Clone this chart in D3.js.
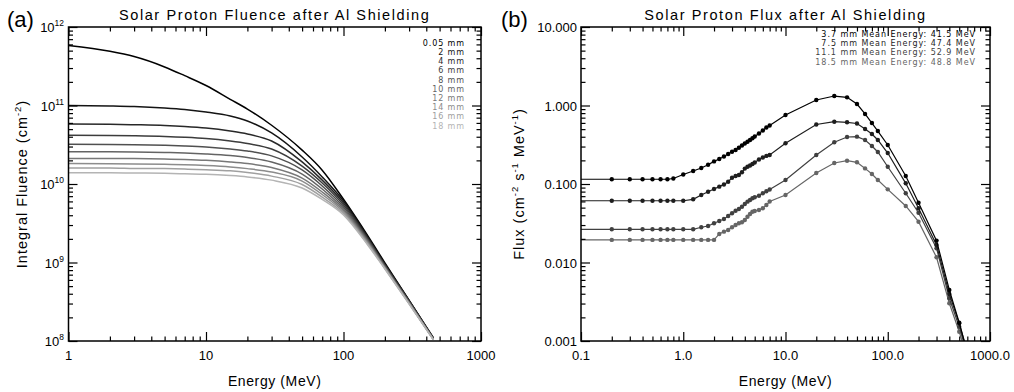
<!DOCTYPE html>
<html>
<head>
<meta charset="utf-8">
<script src="https://cdn.jsdelivr.net/npm/d3@7"></script>
<style>
  body { margin: 0; background: #fff; }
  svg { display: block; }
  text { font-family: "Liberation Sans", Arial, sans-serif; fill: #000; }
  text.legend { font-family: "DejaVu Sans", sans-serif; }
</style>
</head>
<body>
<svg id="chart" width="1014" height="392"></svg>
<script>
// ---- panel (a) data : integral fluence vs energy, one array per Al thickness
var fluenceEnergy = [1, 2, 3, 5, 7, 10, 15, 20, 30, 50, 70, 100, 150, 200, 300, 450];
var shieldLabels = ['0.05 mm', '2 mm', '4 mm', '6 mm', '8 mm', '10 mm', '12 mm', '14 mm', '16 mm', '18 mm'];
var fl005 = [5.8e11, 4.9e11, 4.2e11, 3.1e11, 2.4e11, 1.8e11, 1.2e11, 9.0e10, 5.6e10, 2.7e10, 1.5e10, 6.4e9, 2.2e9, 9.9e8, 3.3e8, 1.1e8];
var fl2   = [1.00e11, 9.86e10, 9.70e10, 9.29e10, 8.89e10, 8.26e10, 7.35e10, 6.35e10, 4.47e10, 2.21e10, 1.23e10, 6.07e9, 2.11e9, 9.57e8, 3.28e8, 1.09e8];
var fl4   = [5.81e10, 5.77e10, 5.69e10, 5.56e10, 5.40e10, 5.16e10, 4.73e10, 4.34e10, 3.53e10, 1.91e10, 1.12e10, 5.73e9, 2.05e9, 9.29e8, 3.24e8, 1.08e8];
var fl6   = [4.17e10, 4.15e10, 4.11e10, 4.03e10, 3.94e10, 3.80e10, 3.53e10, 3.28e10, 2.79e10, 1.69e10, 1.03e10, 5.40e9, 1.99e9, 9.16e8, 3.18e8, 1.07e8];
var fl8   = [3.21e10, 3.18e10, 3.16e10, 3.11e10, 3.05e10, 2.96e10, 2.79e10, 2.63e10, 2.28e10, 1.51e10, 9.44e9, 5.09e9, 1.94e9, 9.02e8, 3.14e8, 1.07e8];
var fl10  = [2.58e10, 2.57e10, 2.56e10, 2.52e10, 2.48e10, 2.41e10, 2.30e10, 2.18e10, 1.91e10, 1.34e10, 8.63e9, 4.81e9, 1.88e9, 8.77e8, 3.09e8, 1.06e8];
var fl12  = [2.12e10, 2.12e10, 2.11e10, 2.08e10, 2.05e10, 2.00e10, 1.91e10, 1.82e10, 1.62e10, 1.19e10, 7.91e9, 4.59e9, 1.82e9, 8.63e8, 3.05e8, 1.05e8];
var fl14  = [1.82e10, 1.81e10, 1.80e10, 1.78e10, 1.76e10, 1.72e10, 1.65e10, 1.57e10, 1.42e10, 1.09e10, 7.35e9, 4.40e9, 1.77e9, 8.51e8, 3.02e8, 1.05e8];
var fl16  = [1.60e10, 1.60e10, 1.58e10, 1.57e10, 1.55e10, 1.52e10, 1.47e10, 1.40e10, 1.26e10, 9.86e9, 6.82e9, 4.21e9, 1.72e9, 8.39e8, 2.99e8, 1.04e8];
var fl18  = [1.39e10, 1.39e10, 1.38e10, 1.37e10, 1.35e10, 1.33e10, 1.28e10, 1.23e10, 1.12e10, 8.89e9, 6.35e9, 4.03e9, 1.67e9, 8.26e8, 2.96e8, 1.04e8];
var fluenceSeries = [fl005, fl2, fl4, fl6, fl8, fl10, fl12, fl14, fl16, fl18];
var fluenceXTicks = [1, 10, 100, 1000];
var fluenceYTicks = [1e8, 1e9, 1e10, 1e11, 1e12];

// ---- panel (b) data : differential flux vs energy
var fluxEnergy = [0.1, 0.2, 0.3, 0.4, 0.5, 0.6, 0.7, 0.8, 1.0, 1.25, 1.5, 1.75, 2.0, 2.25, 2.5, 2.75, 3.0, 3.25, 3.5, 3.75,
                  4.0, 4.25, 4.5, 4.75, 5.0, 5.5, 6.0, 6.5, 7.0, 10, 20, 30, 40, 50, 60, 70, 80, 100, 150, 200, 300, 400, 500, 600];
var flux37 = [0.115, 0.115, 0.115, 0.115, 0.115, 0.115, 0.115, 0.1175, 0.132, 0.1465, 0.160, 0.176, 0.194, 0.208, 0.224, 0.241, 0.258, 0.271, 0.290, 0.309,
              0.328, 0.346, 0.364, 0.382, 0.403, 0.440, 0.481, 0.525, 0.556, 0.757, 1.175, 1.32, 1.27, 1.045, 0.780, 0.598, 0.473, 0.314, 0.1265, 0.0578, 0.0190, 0.00447, 0.00171, 0.00072];
var flux75 = [0.0612, 0.0612, 0.0612, 0.0612, 0.0612, 0.0612, 0.0612, 0.0612, 0.0612, 0.0638, 0.0724, 0.0798, 0.0863, 0.0925, 0.0986, 0.107, 0.120, 0.1265, 0.130, 0.141,
              0.157, 0.166, 0.172, 0.180, 0.188, 0.205, 0.218, 0.228, 0.234, 0.330, 0.573, 0.622, 0.611, 0.590, 0.502, 0.434, 0.364, 0.248, 0.102, 0.0490, 0.0167, 0.00397, 0.00168, 0.00072];
var flux111 = [0.0265, 0.0265, 0.0265, 0.0265, 0.0265, 0.0265, 0.0265, 0.0265, 0.0265, 0.0265, 0.0281, 0.0292, 0.0316, 0.0338, 0.0358, 0.0391, 0.0424, 0.0457, 0.0481, 0.0514,
               0.0556, 0.0596, 0.0625, 0.0658, 0.0678, 0.0710, 0.0762, 0.0807, 0.0851, 0.1125, 0.234, 0.340, 0.397, 0.401, 0.364, 0.305, 0.256, 0.166, 0.0762, 0.0431, 0.0152, 0.00350, 0.00152, 0.00066];
var flux185 = [0.0194, 0.0194, 0.0194, 0.0194, 0.0194, 0.0194, 0.0194, 0.0194, 0.0194, 0.0194, 0.0194, 0.0194, 0.0194, 0.0231, 0.0247, 0.0259, 0.0281, 0.0301, 0.0316, 0.0325,
               0.0348, 0.0383, 0.0415, 0.0444, 0.0453, 0.0467, 0.0490, 0.0540, 0.0598, 0.0724, 0.138, 0.185, 0.198, 0.189, 0.158, 0.134, 0.1125, 0.0855, 0.0525, 0.0331, 0.01164, 0.00302, 0.00131, 0.00061];
var fluxSeries = [flux37, flux75, flux111, flux185];
var fluxLegend = ['3.7 mm Mean Energy: 41.5 MeV', '7.5 mm Mean Energy: 47.4 MeV', '11.1 mm Mean Energy: 52.9 MeV', '18.5 mm Mean Energy: 48.8 MeV'];
var fluxColors = ['#000000', '#1e1e1e', '#404040', '#666666'];
var fluxXTicks = [0.1, 1, 10, 100, 1000];
var fluxXLabels = ['0.1', '1.0', '10.0', '100.0', '1000.0'];
var fluxYTicks = [0.001, 0.01, 0.1, 1, 10];
var fluxYLabels = ['0.001', '0.010', '0.100', '1.000', '10.000'];

var svg = d3.select('#chart');
var MAJOR = 9, MINOR = 4.5;

// help function : IDL style box with inward ticks on all four sides
function drawBox(x, y, xMajor, yMajor){
    var xr = x.range(), yr = y.range();
    var xMinor = x.ticks().filter(function(t){ return xMajor.indexOf(t) < 0; });
    var yMinor = y.ticks().filter(function(t){ return yMajor.indexOf(t) < 0; });
    var axes = [
        [d3.axisBottom, x, xMinor, xMajor, 'translate(0,' + yr[0] + ')'],
        [d3.axisTop, x, xMinor, xMajor, 'translate(0,' + yr[1] + ')'],
        [d3.axisLeft, y, yMinor, yMajor, 'translate(' + xr[0] + ',0)'],
        [d3.axisRight, y, yMinor, yMajor, 'translate(' + xr[1] + ',0)']
    ];
    axes.forEach(function(a){
        [[a[2], MINOR], [a[3], MAJOR]].forEach(function(set){
            var g = svg.append('g').attr('transform', a[4])
                .call(a[0](a[1]).tickValues(set[0]).tickSize(-set[1]).tickFormat(''));
            g.select('.domain').remove();
            g.selectAll('line').attr('stroke', '#000').attr('stroke-width', 1.2);
        });
    });
    svg.append('rect')
        .attr('x', xr[0]).attr('y', yr[1])
        .attr('width', xr[1] - xr[0]).attr('height', yr[0] - yr[1])
        .attr('fill', 'none').attr('stroke', '#000').attr('stroke-width', 1.5);
}

function addSupText(sel, parts){
    // parts: [text, sup?]
    parts.forEach(function(p, i){
        var t = sel.append('tspan').text(p[0]);
        if(p[1]){
            t.attr('dy', -6).attr('font-size', '0.65em');
        } else if(i > 0 && parts[i - 1][1]){
            t.attr('dy', 6);
        }
    });
}

// ================= panel (a)
var xA = d3.scaleLog().domain([1, 1000]).range([68.5, 481]);
var yA = d3.scaleLog().domain([1e8, 1e12]).range([341, 27]);
var greys = d3.interpolateRgb('#000000', '#b4b4b4');

var lineA = d3.line()
    .x(function(d){ return xA(d[0]); })
    .y(function(d){ return yA(d[1]); })
    .curve(d3.curveMonotoneX);

fluenceSeries.forEach(function(vals, i){
    var pts = fluenceEnergy.map(function(e, k){ return [e, vals[k]]; });
    svg.append('path').datum(pts)
        .attr('d', lineA)
        .attr('fill', 'none')
        .attr('stroke', greys(i / 9))
        .attr('stroke-width', 1.5);
});

drawBox(xA, yA, fluenceXTicks, fluenceYTicks);

fluenceXTicks.forEach(function(t){
    svg.append('text').attr('x', xA(t)).attr('y', 360)
        .attr('text-anchor', 'middle').attr('font-size', 13).text(t);
});
fluenceYTicks.forEach(function(t){
    var txt = svg.append('text').attr('x', 64).attr('y', yA(t) + 5)
        .attr('text-anchor', 'end').attr('font-size', 13);
    addSupText(txt, [['10', false], [String(Math.round(Math.log10(t))), true]]);
});

shieldLabels.forEach(function(lbl, i){
    svg.append('text').attr('class', 'legend')
        .attr('x', 465).attr('y', 45.8 + i * 9.2)
        .attr('text-anchor', 'end').attr('font-size', 8)
        .attr('letter-spacing', 0.9)
        .style('fill', greys(i / 9))
        .text(lbl);
});

svg.append('text').attr('x', 274.7).attr('y', 20).attr('text-anchor', 'middle')
    .attr('font-size', 14.5).attr('letter-spacing', 1.6)
    .text('Solar Proton Fluence after Al Shielding');
svg.append('text').attr('x', 274.7).attr('y', 386).attr('text-anchor', 'middle')
    .attr('font-size', 14).attr('letter-spacing', 0.6)
    .text('Energy (MeV)');
var ytA = svg.append('text').attr('transform', 'translate(27,184) rotate(-90)')
    .attr('text-anchor', 'middle').attr('font-size', 14.5).attr('letter-spacing', 1);
addSupText(ytA, [['Integral Fluence (cm', false], ['-2', true], [')', false]]);
svg.append('text').attr('x', 7).attr('y', 27).attr('font-size', 22).text('(a)');

// ================= panel (b)
var xB = d3.scaleLog().domain([0.1, 1000]).range([581, 990]);
var yB = d3.scaleLog().domain([0.001, 10]).range([341, 27]);

svg.append('clipPath').attr('id', 'clipB').append('rect')
    .attr('x', 581).attr('y', 27).attr('width', 409).attr('height', 314);

var lineB = d3.line()
    .x(function(d){ return xB(d[0]); })
    .y(function(d){ return yB(d[1]); });

var gB = svg.append('g').attr('clip-path', 'url(#clipB)');
fluxSeries.slice().reverse().forEach(function(vals, ri){
    var i = fluxSeries.length - 1 - ri;
    var pts = fluxEnergy.map(function(e, k){ return [e, vals[k]]; });
    gB.append('path').datum(pts)
        .attr('d', lineB)
        .attr('fill', 'none')
        .attr('stroke', fluxColors[i])
        .attr('stroke-width', 1.2);
    gB.selectAll(null).data(pts.filter(function(p){ return p[0] > 0.1; }))
        .enter().append('circle')
        .attr('cx', function(d){ return xB(d[0]); })
        .attr('cy', function(d){ return yB(d[1]); })
        .attr('r', 2.2)
        .attr('fill', fluxColors[i]);
});

drawBox(xB, yB, fluxXTicks, fluxYTicks);

fluxXTicks.forEach(function(t, i){
    svg.append('text').attr('x', xB(t)).attr('y', 360)
        .attr('text-anchor', 'middle').attr('font-size', 13).text(fluxXLabels[i]);
});
fluxYTicks.forEach(function(t, i){
    svg.append('text').attr('x', 577).attr('y', yB(t) + 5)
        .attr('text-anchor', 'end').attr('font-size', 13).text(fluxYLabels[i]);
});

fluxLegend.forEach(function(lbl, i){
    svg.append('text').attr('class', 'legend')
        .attr('x', 976).attr('y', 37 + i * 9.2)
        .attr('text-anchor', 'end').attr('font-size', 8)
        .attr('letter-spacing', 0.95)
        .style('fill', fluxColors[i])
        .text(lbl);
});

svg.append('text').attr('x', 785.5).attr('y', 20).attr('text-anchor', 'middle')
    .attr('font-size', 14.5).attr('letter-spacing', 1.6)
    .text('Solar Proton Flux after Al Shielding');
svg.append('text').attr('x', 785.5).attr('y', 386).attr('text-anchor', 'middle')
    .attr('font-size', 14).attr('letter-spacing', 0.6)
    .text('Energy (MeV)');
var ytB = svg.append('text').attr('transform', 'translate(524,184) rotate(-90)')
    .attr('text-anchor', 'middle').attr('font-size', 14.5).attr('letter-spacing', 1);
addSupText(ytB, [['Flux (cm', false], ['-2', true], [' s', false], ['-1', true], [' MeV', false], ['-1', true], [')', false]]);
svg.append('text').attr('x', 501).attr('y', 27).attr('font-size', 22).text('(b)');
</script>
</body>
</html>
